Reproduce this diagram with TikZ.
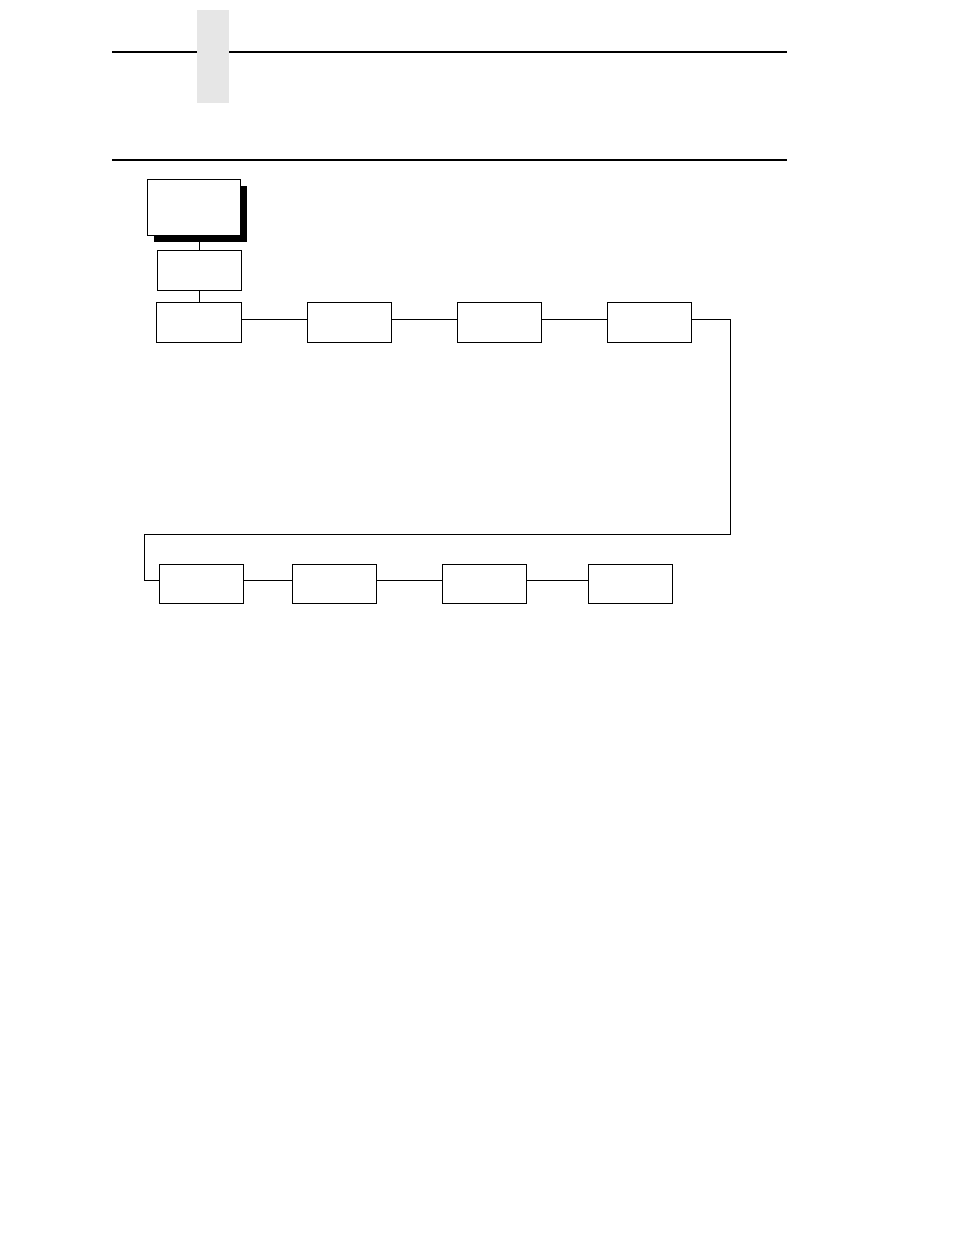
\documentclass[tikz,border=0pt]{standalone}
\usetikzlibrary{shadows}
\definecolor{tabgray}{HTML}{E6E6E6}
\begin{document}
\begin{tikzpicture}[x=0.75pt,y=-0.75pt,
  menubox/.style={draw=black,fill=white,line width=0.85pt,inner sep=0pt,
    minimum width=63pt,minimum height=30pt},
  conn/.style={line width=0.85pt}]
\useasboundingbox (0,0) rectangle (954,1235);
% header rules and tab
\draw[line width=1.5pt] (112,51.7) -- (787,51.7);
\fill[tabgray] (196.7,10) rectangle (229,102.7);
\draw[line width=0.85pt] (112,160) -- (787,160);
% boxes
\node[menubox,minimum width=69.75pt,minimum height=42pt,
  drop shadow={shadow xshift=4.9pt,shadow yshift=-4.9pt,fill=black,opacity=1}]
  (top) at (193.8,207.3) {};
\node[menubox] (b2) at (199.3,270.2) {};
\node[menubox,minimum width=63.75pt] (b3) at (198.8,322.3) {};
\node[menubox] (b4) at (349.3,322.3) {};
\node[menubox] (b5) at (499.3,322.3) {};
\node[menubox] (b6) at (649.5,322.3) {};
\node[menubox,minimum height=29.6pt] (c1) at (201.5,584) {};
\node[menubox,minimum height=29.6pt] (c2) at (334.3,584) {};
\node[menubox,minimum height=29.6pt] (c3) at (484.5,584) {};
\node[menubox,minimum height=29.6pt] (c4) at (630.5,584) {};
% connectors
\coordinate (ts) at (199.3,242);
\draw[conn] (ts) -- (b2.north);
\draw[conn] (b2.south) -- (b2.south |- b3.north);
\draw[conn] (b3.east |- 0,319.3) -- (b4.west |- 0,319.3);
\draw[conn] (b4.east |- 0,319.3) -- (b5.west |- 0,319.3);
\draw[conn] (b5.east |- 0,319.3) -- (b6.west |- 0,319.3);
\coordinate (r1) at (730.7,319.3);
\coordinate (r2) at (730.7,534.3);
\coordinate (l1) at (144.3,534.3);
\coordinate (l2) at (144.3,580.5);
\draw[conn] (b6.east |- r1) -- (r1) -- (r2) -- (l1) -- (l2) -- (c1.west |- l2);
\draw[conn] (c1.east |- l2) -- (c2.west |- l2);
\draw[conn] (c2.east |- l2) -- (c3.west |- l2);
\draw[conn] (c3.east |- l2) -- (c4.west |- l2);
\end{tikzpicture}
\end{document}
